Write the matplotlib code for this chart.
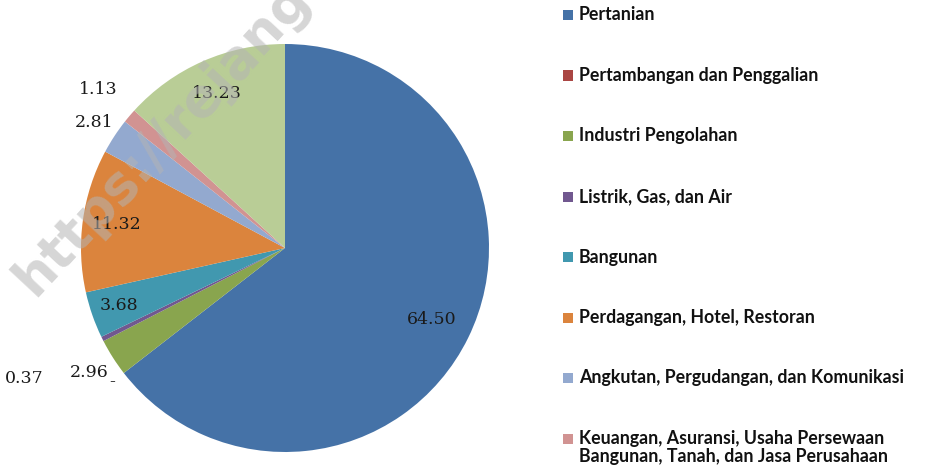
import matplotlib.pyplot as plt
from matplotlib.patches import Rectangle
import numpy as np

# data
sectors = ['Pertanian', 'Pertambangan dan Penggalian', 'Industri Pengolahan',
           'Listrik, Gas, dan Air', 'Bangunan', 'Perdagangan, Hotel, Restoran',
           'Angkutan, Pergudangan, dan Komunikasi',
           'Keuangan, Asuransi, Usaha Persewaan\nBangunan, Tanah, dan Jasa Perusahaan',
           'Jasa-jasa']
values = [64.50, 0.0, 2.96, 0.37, 3.68, 11.32, 2.81, 1.13, 13.23]
colors = ['#4572A7', '#AA4643', '#89A54E', '#71588F', '#4198AF',
          '#DB843D', '#93A9CF', '#D19392', '#B9CD96']
# how far from the centre each value label sits (fraction of radius)
label_dist = [0.80, 1.07, 1.14, 1.43, 0.86, 0.83, 1.12, 1.20, 0.83]

W, H = 928, 470
fig = plt.figure(figsize=(W / 100, H / 100), dpi=100)

cx, cy, r = 285, 248, 204
ax = fig.add_axes([(cx - r) / W, (H - cy - r) / H, 2 * r / W, 2 * r / H])
wedges, _ = ax.pie(values, colors=colors, startangle=90, counterclock=False,
                   wedgeprops=dict(linewidth=0))
ax.set_xlim(-1, 1)
ax.set_ylim(-1, 1)

# value labels
for w, v, d in zip(wedges, values, label_dist):
    mid = np.deg2rad((w.theta1 + w.theta2) / 2)
    txt = '-' if v == 0 else '%.2f' % v
    ax.text(d * np.cos(mid), d * np.sin(mid), txt, ha='center', va='center',
            fontsize=12.5, family='DejaVu Serif', color='#1a1a1a', clip_on=False)

# legend (last entry falls off the bottom of the image)
x0, y0, step = 563, 15, 60.5
for i, (name, c) in enumerate(zip(sectors, colors)):
    y = y0 + i * step
    if y > H:
        break
    fig.patches.append(Rectangle((x0 / W, 1 - (y + 5) / H), 10 / W, 10 / H,
                                 transform=fig.transFigure, facecolor=c,
                                 edgecolor='none'))
    for k, line in enumerate(name.split('\n')):
        fig.text((x0 + 16) / W, 1 - (y + 18 * k) / H, line, ha='left', va='center',
                 fontsize=12.8, family='Lato', fontweight='bold', color='#111111')

# faint watermark
fig.text(162 / W, 1 - 138 / H, 'https://rejang', rotation=47, ha='center', va='center',
         fontsize=38, fontweight='bold', family='DejaVu Sans', color='#b4b4b4',
         alpha=0.55, zorder=5)

fig.savefig('out.png', dpi=100)
